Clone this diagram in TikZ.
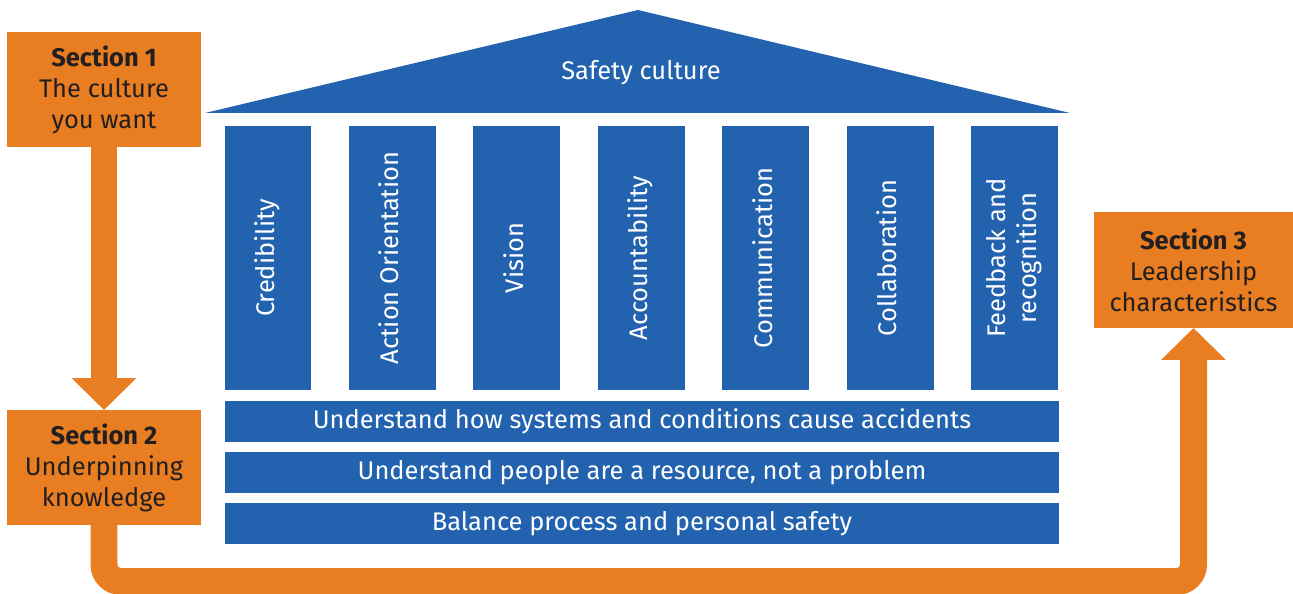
\documentclass[tikz,border=0pt]{standalone}
\usepackage{fontspec}
\setmainfont{Fira Sans}
\usepackage{graphicx}
\usetikzlibrary{arrows.meta,positioning}

\definecolor{roofblue}{HTML}{2262AE}
\definecolor{secorange}{HTML}{E87D22}
\definecolor{darktext}{HTML}{231F20}

\newcommand{\uptext}[1]{\rotatebox{90}{\begin{tabular}{@{}c@{}}#1\end{tabular}}}

\begin{document}
\begin{tikzpicture}[
    x=0.02cm, y=-0.02cm,
    font=\fontsize{14.5}{17.6}\selectfont,
    node distance=0.2cm and 0.75cm,
    every node/.style={outer sep=0pt},
    section/.style={
        fill=secorange,
        text=darktext,
        align=center,
        inner sep=0pt,
        minimum width=3.88cm,
        minimum height=2.3cm
    },
    pillar/.style={
        fill=roofblue,
        text=white,
        inner sep=0pt,
        minimum width=1.74cm,
        minimum height=5.28cm
    },
    base/.style={
        fill=roofblue,
        text=white,
        inner sep=0pt,
        minimum width=16.68cm,
        minimum height=0.82cm
    },
    flow/.style={secorange, line width=0.54cm},
    flowarrow/.style={flow, -{Triangle[length=0.64cm, width=1.26cm]}}
]
\useasboundingbox (0,0) rectangle (1293,594);

% roof
\fill[roofblue] (205,113) -- (638,10) -- (1070,113) -- cycle;
\node[text=white] (roof) at (641,73) {Safety culture};

% pillars
\node[pillar] (credib) at (268,258) {\uptext{Credibility}};
\node[pillar, right=of credib] (action) {\uptext{Action Orientation}};
\node[pillar, right=of action] (vision) {\uptext{Vision}};
\node[pillar, right=of vision] (account) {\uptext{Accountability}};
\node[pillar, right=of account] (comm) {\uptext{Communication}};
\node[pillar, right=of comm] (collab) {\uptext{Collaboration}};
\node[pillar, right=of collab] (feedback) {\uptext{Feedback and\\recognition}};

% foundations
\node[base] (systems) at (642,421.5) {Understand how systems and conditions cause accidents};
\node[base, below=of systems] (people) {Understand people are a resource, not a problem};
\node[base, below=of people] (balance) {Balance process and personal safety};

% sections
\node[section] (sec1) at (104,89.5) {\textbf{Section 1}\\The culture\\you want};
\node[section] (sec2) at (104,467.5) {\textbf{Section 2}\\Underpinning\\knowledge};
\node[section, minimum width=3.98cm, minimum height=2.32cm] (sec3) at (1193.5,270) {\textbf{Section 3}\\Leadership\\characteristics};

\coordinate (bottom) at (0,581.5);

\draw[flowarrow] (sec1.south) -- (sec2.north);
\draw[flowarrow, rounded corners=0.34cm] (sec2.south) -- (sec2.south |- bottom) -- (sec3.south |- bottom) -- (sec3.south);
\end{tikzpicture}
\end{document}
